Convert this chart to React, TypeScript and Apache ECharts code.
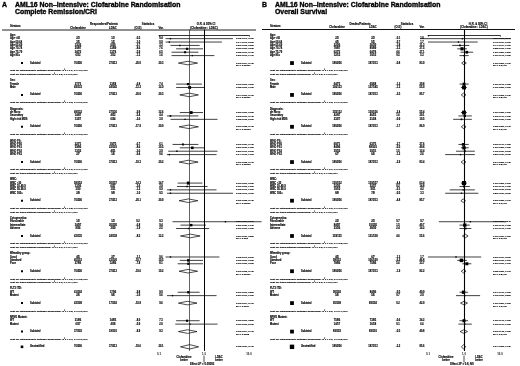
import React, { useEffect, useRef } from 'react';
import * as echarts from 'echarts';

// ---------------- data ----------------
const sectionTitles = ['Age:', 'Sex:', 'Diagnosis:', 'WHO PS:', 'WBC:', 'Cytogenetics:', 'Wheatley group:', 'FLT3 ITD:', 'NPM1 Mutant:'];
const sectionSizes = [6, 2, 3, 4, 4, 3, 3, 2, 2];
const stratumLabels = ['Age <60', 'Age 60-64', 'Age 65-69', 'Age 70-74', 'Age 75-79', 'Age 80+', 'Female', 'Male', 'de Novo', 'Secondary', 'High risk MDS', 'WHO PS0', 'WHO PS1', 'WHO PS2', 'WHO PS3', 'WBC <10', 'WBC 10-49.9', 'WBC 50-99.9', 'WBC 100+', 'Favourable', 'Intermediate', 'Adverse', 'Good', 'Standard', 'Poor', 'WT', 'Mutant', 'WT', 'Mutant'];

// Panel A: Complete Remission/CRi (rows, subtotal after each section, unstratified last)
const aClof = ['2/3', '3/5', '11/26', '30/87', '24/72', '6/13', '76/206', '27/73', '49/133', '76/206', '49/132', '14/47', '13/27', '76/206', '22/71', '39/96', '13/32', '2/7', '76/206', '58/152', '13/36', '3/10', '2/8', '76/206', '1/2', '34/97', '8/36', '43/135', '4/5', '45/115', '27/86', '76/206', '41/102', '2/6', '43/108', '31/86', '6/17', '37/103', '76/206'];
const aLdac = ['1/3', '1/5', '6/30', '13/89', '13/74', '3/12', '37/213', '13/68', '24/145', '37/213', '27/136', '4/53', '6/24', '37/213', '10/75', '22/101', '4/31', '1/6', '37/213', '30/157', '6/37', '1/11', '0/8', '37/213', '1/3', '20/105', '3/30', '24/138', '2/7', '23/120', '12/86', '37/213', '17/96', '0/6', '17/102', '14/83', '4/18', '18/101', '37/213'];
const aOE = [-0.5, -1.0, -2.7, -8.6, -5.9, -1.3, -20.0, -6.8, -13.2, -20.0, -9.9, -5.4, -2.6, -17.9, -6.7, -8.6, -3.6, -0.4, -19.3, -14.3, -3.6, -1.2, -1.0, -20.1, 0.2, -6.8, -1.9, -8.5, -1.1, -10.7, -7.8, -19.6, -9.8, -1.0, -10.8, -8.0, -0.9, -8.9, -19.6];
const aVar = [0.4, 0.9, 3.3, 7.6, 6.5, 1.6, 20.3, 7.4, 12.9, 20.3, 12.6, 4.4, 3.0, 20.0, 6.1, 10.5, 3.0, 0.6, 20.2, 14.7, 3.9, 0.9, 0.5, 20.0, 0.3, 9.4, 2.5, 12.2, 0.6, 10.5, 8.1, 19.2, 9.0, 0.6, 9.6, 7.3, 2.0, 9.3, 20.1];
const aOR = [0.18, 0.17, 0.29, 0.42, 0.38, 0.55, 0.44, 0.44, 0.48, 0.47, 0.52, 0.18, 0.38, 0.46, 0.34, 0.55, 0.25, 0.17, 0.45, 0.45, 0.42, 0.18, 0.18, 0.45, 3.0, 0.52, 0.45, 0.5, 0.18, 0.45, 0.45, 0.44, 0.45, 0.2, 0.43, 0.42, 0.49, 0.43, 0.48];
const aLo = [0.14, 0.14, 0.18, 0.24, 0.19, 0.19, 0.27, 0.24, 0.24, 0.29, 0.29, 0.15, 0.18, 0.28, 0.2, 0.29, 0.16, 0.15, 0.28, 0.26, 0.25, 0.15, 0.15, 0.28, 0.2, 0.3, 0.24, 0.3, 0.14, 0.29, 0.26, 0.28, 0.26, 0.15, 0.27, 0.24, 0.23, 0.27, 0.3];
const aHi = [4.4, 2.5, 0.8, 0.95, 0.75, 1.7, 0.72, 0.9, 1.0, 0.75, 0.95, 0.75, 2.0, 0.75, 0.75, 1.05, 2.0, 1.9, 0.74, 0.92, 1.2, 1.9, 4.4, 0.73, 19, 1.1, 1.3, 0.82, 2.2, 0.95, 0.95, 0.72, 0.8, 1.9, 0.7, 0.8, 2.0, 0.7, 0.76];
const aSubP = ['2P = 0.00001', '2P = 0.00001', '2P = 0.00004', '2P = 0.00002', '2P = 0.00001', '2P = 0.003', '2P = 0.00001', '2P = 0.0007', '2P = 0.0008'];
const aTests = [
  ['Test for heterogeneity between subgroups: (χ²₅ = 1.1; P = 1.0; NS)', 'Test for trend between subgroups: (χ²₁ = 0.6; P = 0.4; NS)'],
  ['Test for heterogeneity between subgroups: (χ²₁ = 0.0; P = 0.9; NS)'],
  ['Test for heterogeneity between subgroups: (χ²₂ = 1.6; P = 0.5; NS)'],
  ['Test for heterogeneity between subgroups: (χ²₃ = 1.6; P = 0.7; NS)', 'Test for trend between subgroups: (χ²₁ = 0.0; P = 0.9; NS)'],
  ['Test for heterogeneity between subgroups: (χ²₃ = 0.8; P = 0.9; NS)', 'Test for trend between subgroups: (χ²₁ = 0.1; P = 0.7; NS)'],
  ['Test for heterogeneity between subgroups: (χ²₂ = 1.7; P = 0.4; NS)', 'Test for trend between subgroups: (χ²₁ = 0.1; P = 0.7; NS)'],
  ['Test for heterogeneity between subgroups: (χ²₂ = 0.6; P = 0.8; NS)', 'Test for trend between subgroups: (χ²₁ = 0.1; P = 0.7; NS)'],
  ['Test for heterogeneity between subgroups: (χ²₁ = 0.5; P = 0.5; NS)'],
  ['Test for heterogeneity between subgroups: (χ²₁ = 0.7; P = 0.4; NS)'],
];

// Panel B: Overall Survival
const bClof = ['2/3', '4/5', '22/26', '78/87', '62/72', '12/13', '180/206', '64/73', '116/133', '180/206', '115/132', '42/47', '23/27', '180/206', '60/71', '84/96', '30/32', '6/7', '180/206', '130/152', '32/36', '10/10', '8/8', '180/206', '2/2', '84/97', '33/36', '119/135', '4/5', '98/115', '78/86', '180/206', '90/102', '5/6', '95/108', '75/86', '14/17', '89/103', '180/206'];
const bLdac = ['2/3', '5/5', '26/30', '80/89', '64/74', '10/12', '187/213', '60/68', '127/145', '187/213', '120/136', '46/53', '21/24', '187/213', '63/75', '88/101', '30/31', '6/6', '187/213', '139/157', '32/37', '9/11', '7/8', '187/213', '2/3', '91/105', '28/30', '121/138', '6/7', '106/120', '75/86', '187/213', '84/96', '5/6', '89/102', '73/83', '16/18', '89/101', '187/213'];
const bOE = [-0.1, -0.7, -1.8, -3.3, 4.6, 0.5, -0.8, -1.2, -1.3, -2.5, -2.4, 1.6, -0.9, -1.7, -2.7, -0.5, 1.5, -1.2, -2.9, -4.4, 0.2, -0.1, -0.5, -4.8, 0.7, 1.5, 2.4, 4.6, -1.3, -6.2, 5.6, -1.9, -0.5, 0.7, 0.2, -0.6, 0.1, -0.5, -2.2];
const bVar = [1.0, 1.7, 11.3, 37.5, 27.1, 5.3, 83.9, 29.8, 55.9, 85.7, 55.4, 20.1, 10.5, 86.0, 27.6, 40.8, 12.4, 2.6, 83.4, 63.4, 14.8, 4.2, 3.3, 85.7, 0.7, 40.7, 14.2, 55.6, 1.7, 46.8, 33.7, 82.2, 40.9, 2.0, 42.9, 34.2, 6.6, 40.8, 85.6];
const bOR = [0.9, 0.7, 0.77, 0.88, 1.2, 1.0, 1.0, 1.0, 1.0, 0.97, 1.0, 1.05, 0.85, 0.98, 0.95, 1.0, 1.05, 0.8, 0.97, 1.0, 1.0, 0.95, 0.85, 0.95, 1.5, 1.05, 1.1, 1.09, 0.6, 0.85, 1.2, 0.98, 0.97, 1.05, 1.0, 1.0, 1.05, 0.99, 0.97];
const bLo = [0.06, 0.1, 0.47, 0.65, 0.8, 0.75, 0.86, 0.75, 0.82, 0.84, 0.82, 0.7, 0.5, 0.84, 0.7, 0.82, 0.6, 0.3, 0.83, 0.82, 0.75, 0.4, 0.3, 0.82, 0.2, 0.75, 0.75, 0.9, 0.1, 0.65, 0.9, 0.84, 0.75, 0.6, 0.8, 0.75, 0.7, 0.78, 0.85];
const bHi = [20, 2.4, 1.4, 1.2, 1.8, 1.35, 1.16, 1.35, 1.2, 1.13, 1.2, 1.65, 1.65, 1.14, 1.35, 1.35, 2.0, 2.0, 1.13, 1.2, 1.45, 2.0, 2.5, 1.1, 15, 1.45, 1.6, 1.3, 3.0, 1.2, 1.6, 1.14, 1.3, 2.8, 1.25, 1.3, 1.65, 1.25, 1.12];
const bSubP = ['2P = 0.9; NS', '2P = 0.8; NS', '2P = 0.9; NS', '2P = 0.8; NS', '2P = 0.6; NS', '2P = 0.5; NS', '2P = 0.8; NS', '2P = 1.0; NS', '2P = 0.9; NS'];
const bTests = [
  ['Test for heterogeneity between subgroups: (χ²₅ = 2.6; P = 0.8; NS)', 'Test for trend between subgroups: (χ²₁ = 0.6; P = 0.4; NS)'],
  ['Test for heterogeneity between subgroups: (χ²₁ = 0.0; P = 1.0; NS)'],
  ['Test for heterogeneity between subgroups: (χ²₂ = 0.3; P = 0.9; NS)'],
  ['Test for heterogeneity between subgroups: (χ²₃ = 0.7; P = 0.9; NS)', 'Test for trend between subgroups: (χ²₁ = 0.1; P = 0.8; NS)'],
  ['Test for heterogeneity between subgroups: (χ²₃ = 0.4; P = 0.9; NS)', 'Test for trend between subgroups: (χ²₁ = 0.0; P = 0.9; NS)'],
  ['Test for heterogeneity between subgroups: (χ²₂ = 0.6; P = 0.8; NS)', 'Test for trend between subgroups: (χ²₁ = 0.5; P = 0.5; NS)'],
  ['Test for heterogeneity between subgroups: (χ²₂ = 2.4; P = 0.3; NS)', 'Test for trend between subgroups: (χ²₁ = 2.0; P = 0.2; NS)'],
  ['Test for heterogeneity between subgroups: (χ²₁ = 0.1; P = 0.7; NS)'],
  ['Test for heterogeneity between subgroups: (χ²₁ = 0.1; P = 0.8; NS)'],
];

const axisTicks = [0.1, 1, 10];

// ---------------- layout ----------------
const FONT = '"Liberation Sans", Arial, Helvetica, sans-serif';
const INK = '#000000';
const Y_MIN = -1.7;
const Y_MAX = 93.1;
const GRID_TOP = 29.5;
const GRID_H = 321.4;
const ROW_FONT = 2.6;
const THICK = 0.12;

type Item = { kind: 'head' | 'row' | 'sub' | 'test' | 'all'; text?: string; idx?: number; pos: number; sec?: number };

function buildLayout(tests: string[][]): Item[] {
  const items: Item[] = [];
  let pos = 0;
  let di = 0;
  let li = 0;
  sectionTitles.forEach((title, s) => {
    if (s > 0) pos += 1.9;
    items.push({ kind: 'head', text: title, pos });
    for (let k = 0; k < sectionSizes[s]; k++) {
      pos += 1;
      items.push({ kind: 'row', text: stratumLabels[li++], idx: di++, pos });
    }
    pos += 2.2;
    items.push({ kind: 'sub', idx: di++, pos, sec: s });
    pos += 2.3;
    tests[s].forEach((t, j) => {
      if (j > 0) pos += 1;
      items.push({ kind: 'test', text: t, pos });
    });
  });
  pos += 2.2;
  items.push({ kind: 'all', idx: di, pos });
  return items;
}

const fmt = (v: number) => (v < 10 ? v.toFixed(2) : v.toFixed(1));

interface Panel {
  base: number; gridLeft: number; gridWidth: number; boxK: number; subBox: number; allBox: number;
  subMarkX: number; subTextX: number;
  cols: { label: number; clof: number; ldac: number; oe: number; vr: number; ci: number };
  clof: string[]; ldac: string[]; oe: number[]; vr: number[]; or: number[]; lo: number[]; hi: number[];
  subP: string[]; tests: string[][];
}

const panels: Panel[] = [
  {
    base: 0, gridLeft: 159, gridWidth: 90, boxK: 0.8, subBox: 2, allBox: 2.6, subMarkX: 22, subTextX: 30,
    cols: { label: 10, clof: 78, ldac: 113, oe: 138, vr: 161, ci: 236 },
    clof: aClof, ldac: aLdac, oe: aOE, vr: aVar, or: aOR, lo: aLo, hi: aHi, subP: aSubP, tests: aTests,
  },
  {
    base: 260, gridLeft: 428, gridWidth: 72, boxK: 0.52, subBox: 3.8, allBox: 4.4, subMarkX: 32, subTextX: 41,
    cols: { label: 10, clof: 77, ldac: 113, oe: 138, vr: 162, ci: 233 },
    clof: bClof, ldac: bLdac, oe: bOE, vr: bVar, or: bOR, lo: bLo, hi: bHi, subP: bSubP, tests: bTests,
  },
];

function txt(x: number, y: number, text: string, o: any = {}) {
  const size = o.size ?? ROW_FONT;
  return {
    type: 'text', x, y, silent: true,
    style: {
      text, fontSize: size, lineHeight: size, fontFamily: FONT, fill: INK,
      stroke: INK, lineWidth: THICK,
      fontWeight: o.bold === false ? 'normal' : 'bold',
      align: o.align ?? 'left', verticalAlign: 'middle',
    },
  };
}

function buildOption() {
  const grids: any[] = [];
  const xAxes: any[] = [];
  const yAxes: any[] = [];
  const series: any[] = [];

  panels.forEach((P, pi) => {
    const items = buildLayout(P.tests);
    grids.push({ left: P.gridLeft, top: GRID_TOP, width: P.gridWidth, height: GRID_H, containLabel: false, outerBoundsMode: 'none' });
    xAxes.push({
      type: 'log', logBase: 10, min: axisTicks[0], max: axisTicks[axisTicks.length - 1], gridIndex: pi,
      axisLine: { show: true, lineStyle: { color: '#000', width: 0.8 } },
      axisTick: { show: true, length: 1.5, lineStyle: { color: '#000', width: 0.6 } },
      axisLabel: { fontSize: 2.8, fontWeight: 'bold', margin: 1.3, color: INK, fontFamily: FONT, formatter: (v: number) => v.toFixed(1) },
      splitLine: { show: false },
    });
    yAxes.push({ type: 'value', inverse: true, min: Y_MIN, max: Y_MAX, gridIndex: pi, show: false });

    const forestData: any[] = [];
    items.forEach((it) => {
      if (it.kind === 'row' || it.kind === 'sub' || it.kind === 'all') {
        const i = it.idx as number;
        const size = Math.max(1.4, P.boxK * Math.sqrt(P.vr[i]));
        forestData.push([P.or[i], P.lo[i], P.hi[i], it.pos, size, it.kind === 'row' ? 0 : it.kind === 'sub' ? 1 : 2]);
      }
    });
    const overall = P.or[P.or.length - 1];

    series.push({
      type: 'custom', name: 'forest' + pi, xAxisIndex: pi, yAxisIndex: pi, silent: true,
      encode: { x: 0, y: 3 }, data: forestData, clip: false,
      renderItem: (params: any, api: any) => {
        const pos = api.value(3);
        const size = api.value(4);
        const kind = api.value(5);
        const c = api.coord([api.value(0), pos]);
        const l = api.coord([api.value(1), pos]);
        const h = api.coord([api.value(2), pos]);
        if (kind === 0) {
          return {
            type: 'group', children: [
              { type: 'line', shape: { x1: l[0], y1: c[1], x2: h[0], y2: c[1] }, style: { stroke: '#000', lineWidth: 0.75 } },
              { type: 'rect', shape: { x: c[0] - size / 2, y: c[1] - size / 2, width: size, height: size }, style: { fill: '#000' } },
            ],
          };
        }
        const hh = kind === 2 ? 2.2 : 1.8;
        return {
          type: 'polygon',
          shape: { points: [[l[0], c[1]], [c[0], c[1] - hh], [h[0], c[1]], [c[0], c[1] + hh]] },
          style: { fill: '#fff', stroke: '#000', lineWidth: 0.7 },
        };
      },
      markLine: {
        silent: true, symbol: ['none', 'none'], label: { show: false }, animation: false,
        data: pi === 0
          ? [{ xAxis: 1, lineStyle: { color: '#000', width: 1, type: 'solid' } }, { xAxis: overall, lineStyle: { color: '#222', width: 0.7, type: 'solid' } }]
          : [{ xAxis: 1, lineStyle: { color: '#000', width: 1.1, type: 'solid' } }],
      },
    });

    series.push({
      type: 'custom', name: 'table' + pi, xAxisIndex: pi, yAxisIndex: pi, silent: true, clip: false,
      encode: { x: 0, y: 1 },
      data: items.map((it, k) => [1, it.pos, k]),
      renderItem: (params: any, api: any) => {
        const it = items[api.value(2)];
        const y = api.coord([1, api.value(1)])[1];
        const b = P.base;
        const C = P.cols;
        const ch: any[] = [];
        if (it.kind === 'head') {
          ch.push(txt(b + C.label, y, it.text as string));
        } else if (it.kind === 'test') {
          ch.push(txt(b + C.label, y, it.text as string, { size: 2.5 }));
        } else {
          const i = it.idx as number;
          if (it.kind === 'row') {
            ch.push(txt(b + C.label, y, it.text as string));
          } else {
            const s = it.kind === 'sub' ? P.subBox : P.allBox;
            ch.push({ type: 'rect', shape: { x: b + P.subMarkX - s / 2, y: y - s / 2, width: s, height: s }, style: { fill: '#000' } });
            ch.push(txt(b + P.subTextX, y, it.kind === 'sub' ? 'Subtotal' : 'Unstratified'));
          }
          ch.push(txt(b + C.clof, y, P.clof[i], { align: 'center' }));
          ch.push(txt(b + C.ldac, y, P.ldac[i], { align: 'center' }));
          ch.push(txt(b + C.oe, y, P.oe[i].toFixed(1), { align: 'center' }));
          ch.push(txt(b + C.vr, y, P.vr[i].toFixed(1), { align: 'center' }));
          ch.push(txt(b + C.ci, y, `${fmt(P.or[i])} (${fmt(P.lo[i])}, ${fmt(P.hi[i])})`, { size: 2.45 }));
          if (it.kind === 'sub') {
            ch.push(txt(b + C.ci, y + 2.8, P.subP[it.sec as number], { size: 2.45 }));
          }
        }
        return { type: 'group', children: ch };
      },
    });
  });

  const g: any[] = [];
  const title = (x: number, y: number, t: string, size = 6.9) => ({
    type: 'text', x, y, silent: true,
    style: { text: t, fontSize: size, fontWeight: 'bold', fontFamily: FONT, fill: INK, stroke: INK, lineWidth: 0.35, verticalAlign: 'middle' },
  });
  g.push(title(2, 4.8, 'A'));
  g.push(title(15, 4.8, 'AML16 Non–Intensive: Clofarabine Randomisation'));
  g.push(title(15, 11.8, 'Complete Remission/CRi'));
  g.push(title(262, 4.8, 'B'));
  g.push(title(275, 4.8, 'AML16 Non–Intensive: Clofarabine Randomisation'));
  g.push(title(275, 11.8, 'Overall Survival'));

  const H = (x: number, y: number, t: string, align = 'center') => ({
    type: 'text', x, y, silent: true,
    style: { text: t, fontSize: 2.8, lineHeight: 2.8, fontWeight: 'bold', fontFamily: FONT, fill: INK, stroke: INK, lineWidth: THICK, align, verticalAlign: 'middle' },
  });
  // Panel A headers
  g.push(H(10, 25.6, 'Stratum', 'left'));
  g.push(H(104, 24, 'Responders/Patients'));
  g.push(H(78, 27.3, 'Clofarabine'));
  g.push(H(113, 27.3, 'LDAC'));
  g.push(H(148, 24, 'Statistics'));
  g.push(H(138, 27.3, '(O-E)'));
  g.push(H(161, 27.3, 'Var.'));
  g.push(H(206, 24, 'O.R. & 95% CI'));
  g.push(H(204, 27.3, '(Clofarabine : LDAC)'));
  // Panel B headers
  g.push(H(270, 25.2, 'Stratum', 'left'));
  g.push(H(360, 23.6, 'Deaths/Patients'));
  g.push(H(337, 26.9, 'Clofarabine'));
  g.push(H(373, 26.9, 'LDAC'));
  g.push(H(407, 23.6, 'Statistics'));
  g.push(H(398, 26.9, '(O-E)'));
  g.push(H(422, 26.9, 'Var.'));
  g.push(H(478, 23.6, 'H.R. & 95% CI'));
  g.push(H(474, 26.9, '(Clofarabine : LDAC)'));

  // header rules
  g.push({ type: 'line', silent: true, shape: { x1: 2, y1: 30, x2: 256, y2: 30 }, style: { stroke: '#222', lineWidth: 1 } });
  g.push({ type: 'line', silent: true, shape: { x1: 262, y1: 29.5, x2: 515, y2: 29.5 }, style: { stroke: '#111', lineWidth: 1.1 } });

  // bottom annotations
  const S = (x: number, y: number, t: string) => ({
    type: 'text', x, y, silent: true,
    style: { text: t, fontSize: 2.7, fontWeight: 'bold', fontFamily: FONT, fill: INK, stroke: INK, lineWidth: THICK, align: 'center', verticalAlign: 'middle', lineHeight: 3 },
  });
  g.push(S(184, 358.8, 'Clofarabine\nbetter'));
  g.push(S(219, 358.8, 'LDAC\nbetter'));
  g.push({ type: 'line', silent: true, shape: { x1: 204, y1: 355.5, x2: 204, y2: 362.5 }, style: { stroke: '#000', lineWidth: 0.7 } });
  g.push(S(202, 364.6, 'Effect 2P = 0.00003'));
  g.push(S(446, 358.8, 'Clofarabine\nbetter'));
  g.push(S(479, 358.8, 'LDAC\nbetter'));
  g.push({ type: 'line', silent: true, shape: { x1: 464, y1: 355.5, x2: 464, y2: 362.5 }, style: { stroke: '#000', lineWidth: 0.7 } });
  g.push(S(462, 364.6, 'Effect 2P = 0.8; NS'));

  return {
    animation: false,
    backgroundColor: '#ffffff',
    grid: grids,
    xAxis: xAxes,
    yAxis: yAxes,
    series,
    graphic: { elements: g },
  };
}

export default function App() {
  const ref = useRef<HTMLDivElement>(null);
  useEffect(() => {
    document.body.style.margin = '0';
    if (!ref.current) return;
    const chart = echarts.init(ref.current, undefined, { renderer: 'svg' });
    chart.setOption(buildOption() as any);
    return () => chart.dispose();
  }, []);
  return (
    <div
      ref={ref}
      style={{ position: 'absolute', left: 0, top: 0, width: 520, height: 366, background: '#fff', filter: 'grayscale(1)' }}
    />
  );
}
